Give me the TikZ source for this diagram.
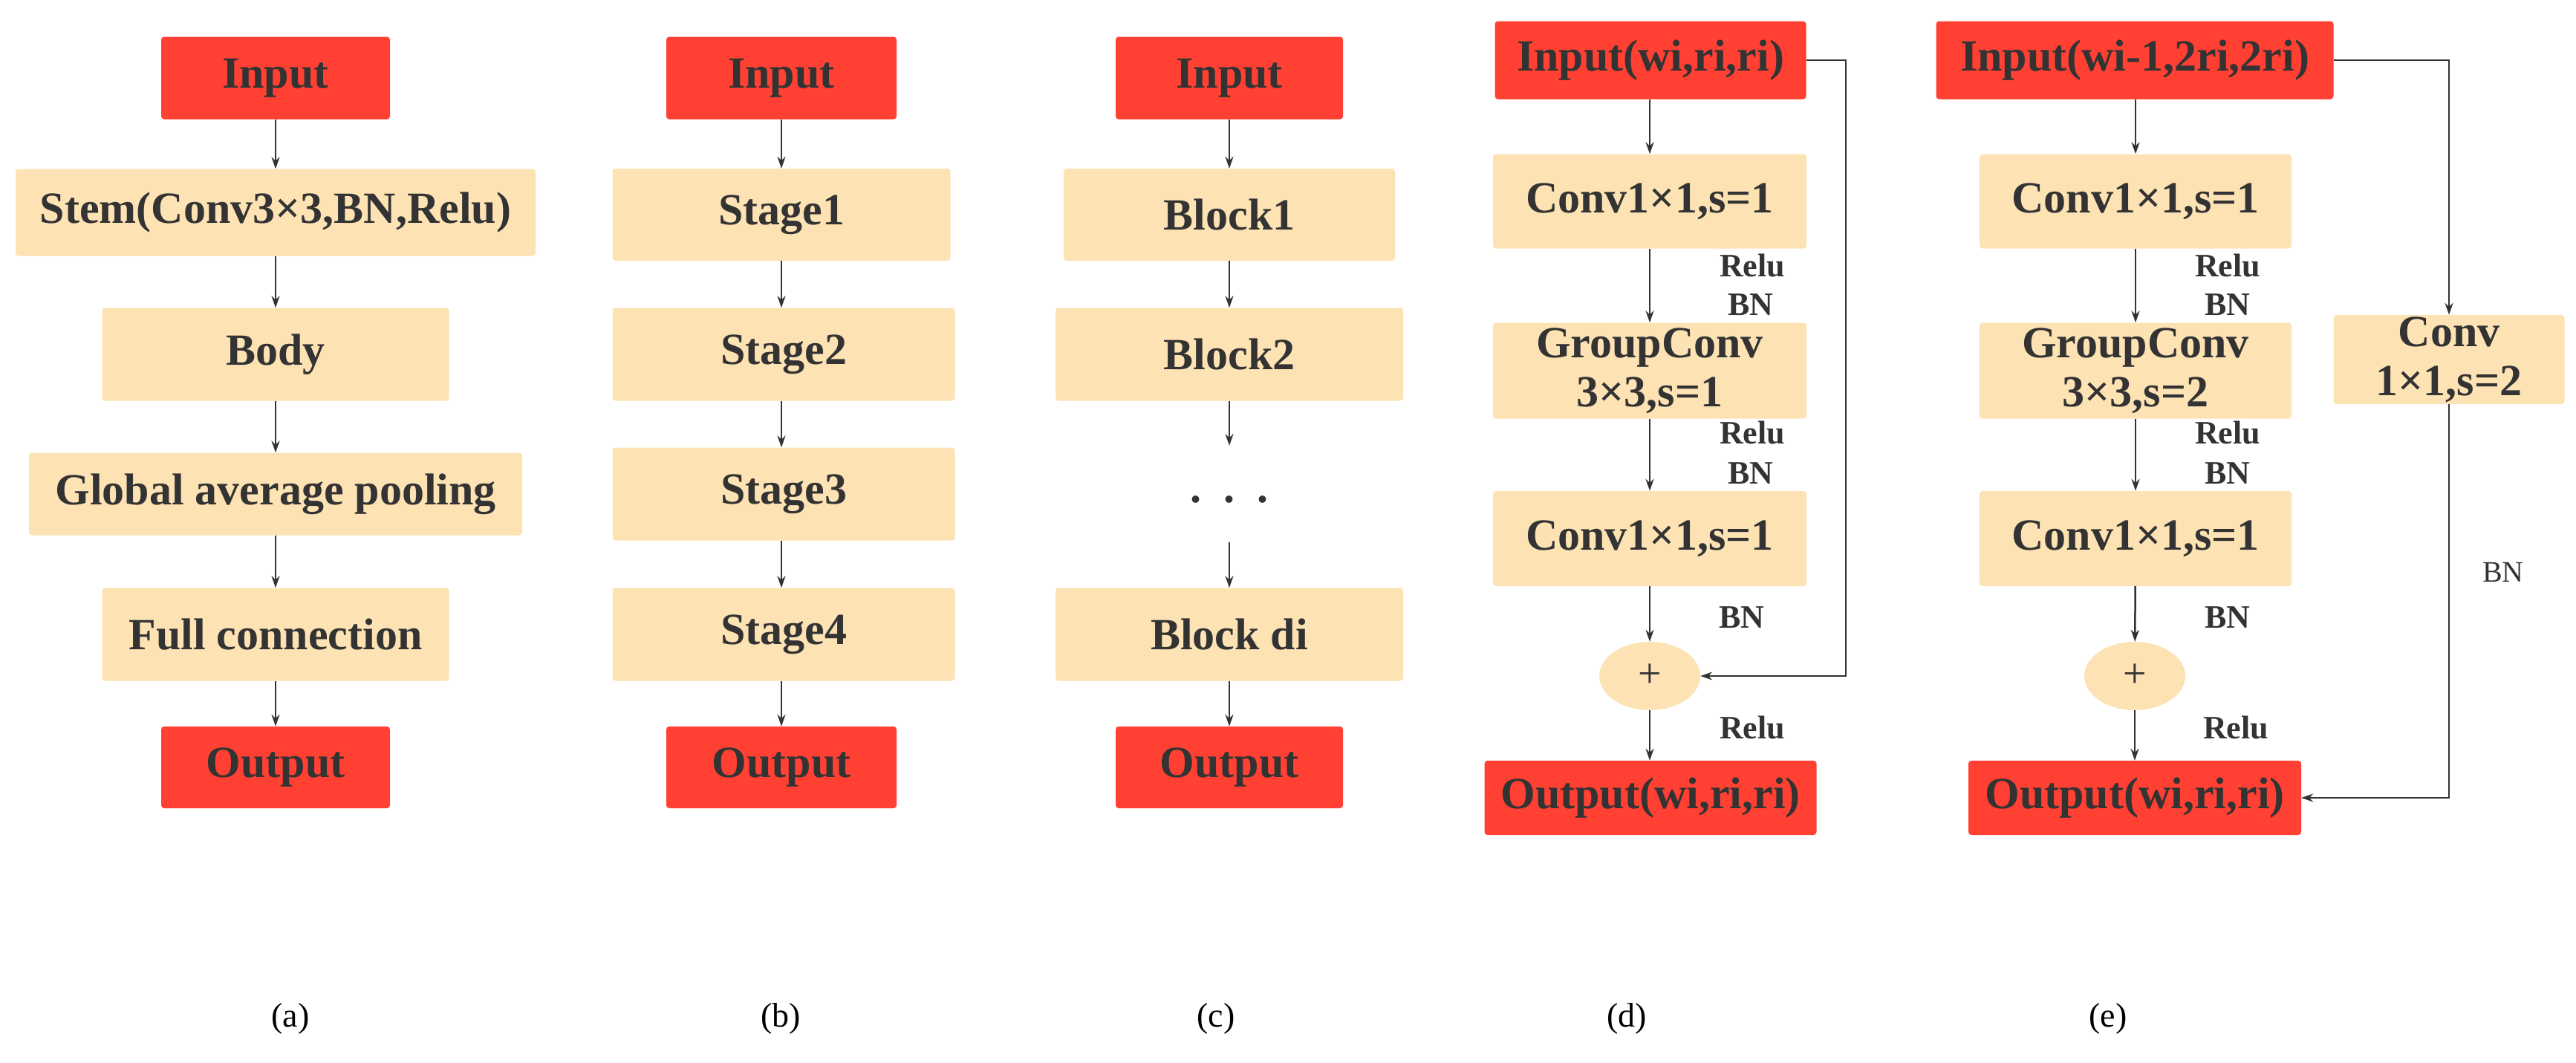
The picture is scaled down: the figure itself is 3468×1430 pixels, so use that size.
\documentclass[tikz,border=0pt]{standalone}
\usepackage{fontspec}
\setmainfont{Liberation Serif}
\usetikzlibrary{arrows.meta,shapes.geometric}
\definecolor{rd}{HTML}{FF4033}
\definecolor{bg}{HTML}{FDE2B4}
\definecolor{ln}{HTML}{333333}
\begin{document}
\begin{tikzpicture}[x=1pt,y=-1pt,
  box/.style={rectangle,rounded corners=4pt,inner sep=0pt,align=center,text=ln,
    font=\fontsize{60}{66}\selectfont\bfseries},
  rbox/.style={box,fill=rd},
  ybox/.style={box,fill=bg},
  plus/.style={ellipse,fill=bg,minimum width=136,minimum height=92,inner sep=0pt,text=ln,font=\fontsize{56}{60}\selectfont},
  lab/.style={text=ln,font=\fontsize{44}{48}\selectfont\bfseries,inner sep=0pt},
  captxt/.style={font=\fontsize{46}{50}\selectfont,inner sep=0pt},
  arr/.style={draw=ln,line width=2.5pt,-{Stealth[length=16pt,width=11pt]}}]
\useasboundingbox (0,0) rectangle (3468,1430);
% (a)
\node[rbox,minimum width=308,minimum height=111] (a0) at (371,105) {Input};
\node[ybox,minimum width=700,minimum height=117] (a1) at (371,286) {Stem(Conv3×3,BN,Relu)};
\node[ybox,minimum width=467,minimum height=125] (a2) at (371,477) {Body};
\node[ybox,minimum width=664,minimum height=111] (a3) at (371,665) {Global average pooling};
\node[ybox,minimum width=467,minimum height=125] (a4) at (371,854) {Full connection};
\node[rbox,minimum width=308,minimum height=110] (a5) at (371,1033) {Output};
\foreach \i/\j in {a0/a1,a1/a2,a2/a3,a3/a4,a4/a5} \draw[arr] (\i) -- (\j);
% (b)
\node[rbox,minimum width=310,minimum height=111] (b0) at (1052,105) {Input};
\node[ybox,minimum width=455,minimum height=124] (b1) at (1052,289) {Stage1};
\node[ybox,minimum width=461,minimum height=125] (b2) at (1055,477) {Stage2};
\node[ybox,minimum width=461,minimum height=125] (b3) at (1055,665) {Stage3};
\node[ybox,minimum width=461,minimum height=125] (b4) at (1055,854) {Stage4};
\node[rbox,minimum width=310,minimum height=110] (b5) at (1052,1033) {Output};
\foreach \i/\j in {b0/b1,b1/b2,b2/b3,b3/b4,b4/b5} \draw[arr] (\i.south-|b0) -- (\j.north-|b0);
% (c)
\node[rbox,minimum width=306,minimum height=111] (c0) at (1655,105) {Input};
\node[ybox,minimum width=446,minimum height=124] (c1) at (1655,289) {Block1};
\node[ybox,minimum width=468,minimum height=125] (c2) at (1655,477) {Block2};
\node[inner sep=0pt,font=\fontsize{60}{66}\selectfont\bfseries,text=ln] (cd) at (1655,672) {.\hspace{30pt}.\hspace{30pt}.};
\coordinate (cd1) at (1655,600);
\coordinate (cd2) at (1655,730);
\node[ybox,minimum width=468,minimum height=125] (c3) at (1655,854) {Block di};
\node[rbox,minimum width=306,minimum height=110] (c4) at (1655,1033) {Output};
\draw[arr] (c0) -- (c1);
\draw[arr] (c1) -- (c2);
\draw[arr] (c2) -- (cd1);
\draw[arr] (cd2) -- (c3);
\draw[arr] (c3) -- (c4);
% (d)
\node[rbox,minimum width=419,minimum height=105] (d0) at (2222,81) {Input(wi,ri,ri)};
\node[ybox,minimum width=422,minimum height=127] (d1) at (2221,271) {Conv1×1,s=1};
\node[ybox,minimum width=422,minimum height=129] (d2) at (2221,499) {GroupConv\\3×3,s=1};
\node[ybox,minimum width=422,minimum height=128] (d3) at (2221,725) {Conv1×1,s=1};
\node[plus] (d4) at (2221,910) {+};
\node[rbox,minimum width=447,minimum height=100] (d5) at (2222,1074) {Output(wi,ri,ri)};
\draw[arr] (d0.south-|d1) -- (d1);
\draw[arr] (d1) -- (d2);
\draw[arr] (d2) -- (d3);
\draw[arr] (d3) -- (d4);
\draw[arr] (d4) -- (d5.north-|d4);
\draw[arr] (d0.east) -- (2485,81) |- (d4.east);
\node[lab] at (2359,357) {Relu};
\node[lab] at (2357,410) {BN};
\node[lab] at (2359,582) {Relu};
\node[lab] at (2357,637) {BN};
\node[lab] at (2345,831) {BN};
\node[lab] at (2359,979) {Relu};
% (e)
\node[rbox,minimum width=535,minimum height=105] (e0) at (2874,81) {Input(wi-1,2ri,2ri)};
\node[ybox,minimum width=420,minimum height=127] (e1) at (2875,271) {Conv1×1,s=1};
\node[ybox,minimum width=420,minimum height=129] (e2) at (2875,499) {GroupConv\\3×3,s=2};
\node[ybox,minimum width=420,minimum height=128] (e3) at (2875,725) {Conv1×1,s=1};
\node[plus] (e4) at (2874,910) {+};
\node[rbox,minimum width=448,minimum height=100] (e5) at (2874,1074) {Output(wi,ri,ri)};
\node[ybox,minimum width=311,minimum height=120] (e6) at (3297,484) {Conv\\1×1,s=2};
\draw[arr] (e0.south-|e1) -- (e1);
\draw[arr] (e1) -- (e2);
\draw[arr] (e2) -- (e3);
\draw[arr] (e3) -- (e4);
\draw[arr] (e4) -- (e5.north-|e4);
\draw[arr] (e0.east) -| (e6.north);
\draw[arr] (e6.south) |- (e5.east);
\node[lab] at (2999,357) {Relu};
\node[lab] at (2999,410) {BN};
\node[lab] at (2999,582) {Relu};
\node[lab] at (2999,637) {BN};
\node[lab] at (2999,831) {BN};
\node[lab] at (3010,979) {Relu};
\node[lab,font=\fontsize{40}{44}\selectfont] at (3370,770) {BN};
% captions
\node[captxt] (ca) at (391,1371) {(a)};
\node[captxt] (cb) at (1051,1371) {(b)};
\node[captxt] (cc) at (1637,1371) {(c)};
\node[captxt] (cdd) at (2190,1371) {(d)};
\node[captxt] (ce) at (2838,1371) {(e)};
\end{tikzpicture}
\end{document}
